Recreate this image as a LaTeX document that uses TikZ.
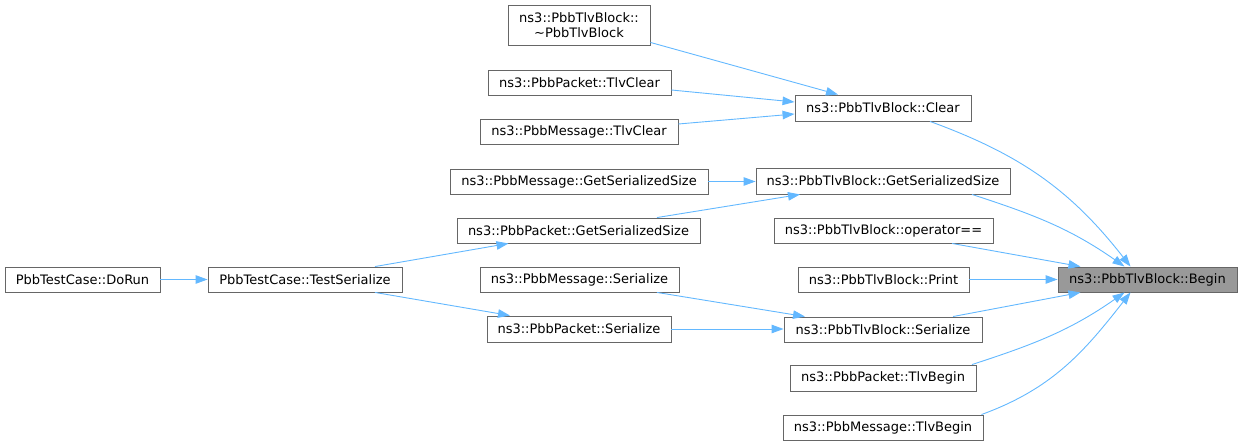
\documentclass[tikz,border=0pt]{standalone}
\usepackage{fontspec}
\setmainfont{DejaVu Sans}
\usetikzlibrary{arrows.meta}
\definecolor{edgeblue}{HTML}{63B8FF}
\definecolor{boxgray}{HTML}{666666}
\definecolor{rootgray}{HTML}{999999}
\begin{document}
\begin{tikzpicture}[
    x=1pt, y=-1pt,
    fn/.style={draw=boxgray, fill=white, line width=0.9pt, minimum height=25pt, inner sep=0pt,
      font=\fontsize{13}{15}\selectfont, anchor=center},
    root/.style={fn, fill=rootgray},
    call/.style={draw=edgeblue, line width=0.9pt, -{Triangle[length=12pt, width=8.5pt]}}
  ]
\useasboundingbox (0,0) rectangle (1243,446);

% Callers of Clear
\node[fn, minimum width=142pt, minimum height=40pt, align=center] (dtor) at (579,25)
  {ns3::PbbTlvBlock::\\\textasciitilde PbbTlvBlock};
\node[fn, minimum width=183pt] (pktTlvClear) at (579.5,82.5) {ns3::PbbPacket::TlvClear};
\node[fn, minimum width=198pt] (msgTlvClear) at (579,131.5) {ns3::PbbMessage::TlvClear};
\node[fn, minimum width=176pt, minimum height=26pt] (clear) at (883,108) {ns3::PbbTlvBlock::Clear};

% GetSerializedSize row
\node[fn, minimum width=258pt] (msgGSS) at (579,181.5) {ns3::PbbMessage::GetSerializedSize};
\node[fn, minimum width=254pt, minimum height=26pt] (tlvGSS) at (883,181) {ns3::PbbTlvBlock::GetSerializedSize};
\node[fn, minimum width=243pt] (pktGSS) at (578.5,230.5) {ns3::PbbPacket::GetSerializedSize};
\node[fn, minimum width=219pt] (opEq) at (883.5,230.5) {ns3::PbbTlvBlock::operator==};

% Test case chain
\node[fn, minimum width=155pt] (doRun) at (82.5,279.5) {PbbTestCase::DoRun};
\node[fn, minimum width=194pt] (testSer) at (305,279.5) {PbbTestCase::TestSerialize};
\node[fn, minimum width=199pt] (msgSer) at (579.5,279.5) {ns3::PbbMessage::Serialize};
\node[fn, minimum width=171pt] (print) at (883.5,279.5) {ns3::PbbTlvBlock::Print};
\node[root, minimum width=179pt] (begin) at (1147.5,279.5) {ns3::PbbTlvBlock::Begin};

% Serialize and TlvBegin
\node[fn, minimum width=184pt, minimum height=26pt] (pktSer) at (579,329) {ns3::PbbPacket::Serialize};
\node[fn, minimum width=198pt] (tlvSer) at (883,329.5) {ns3::PbbTlvBlock::Serialize};
\node[fn, minimum width=186pt, minimum height=26pt] (pktTlvBegin) at (883,378) {ns3::PbbPacket::TlvBegin};
\node[fn, minimum width=200pt] (msgTlvBegin) at (883,427.5) {ns3::PbbMessage::TlvBegin};

% Calls into Clear
\draw[call] ([yshift=3pt]dtor.south east) -- ([xshift=-45pt]clear.north);
\draw[call] ([yshift=-7.5pt]pktTlvClear.east) -- ([yshift=6pt]clear.west);
\draw[call] ([yshift=7.5pt]msgTlvClear.east) -- ([yshift=-6pt]clear.west);

% Calls into GetSerializedSize and Serialize
\draw[call] (msgGSS.east) -- (tlvGSS.west |- msgGSS.east);
\draw[call] ([xshift=78.5pt]pktGSS.north) -- ([xshift=-83pt]tlvGSS.south);
\draw[call] (doRun.east) -- (testSer.west);
\draw[call] ([xshift=70pt]testSer.north) -- ([xshift=-70pt]pktGSS.south);
\draw[call] ([xshift=70pt]testSer.south) -- ([xshift=-69pt]pktSer.north);
\draw[call] ([xshift=77.5pt]msgSer.south) -- ([xshift=-78pt]tlvSer.north);
\draw[call] (pktSer.east) -- (tlvSer.west |- pktSer.east);

% Calls into Begin
\draw[call] ([xshift=47pt]clear.south) to[out=-20, in=128] ([xshift=-17pt]begin.north);
\draw[call] ([xshift=89pt]tlvGSS.south) to[out=-18, in=145] ([xshift=-23pt]begin.north);
\draw[call] ([xshift=68.5pt]opEq.south) -- ([xshift=-67pt]begin.north);
\draw[call] (print.east) -- (begin.west);
\draw[call] ([xshift=70pt]tlvSer.north) -- ([xshift=-67pt]begin.south);
\draw[call] ([xshift=89pt]pktTlvBegin.north) to[out=18, in=-145] ([xshift=-23pt]begin.south);
\draw[call] ([xshift=-2pt]msgTlvBegin.north east) to[out=20, in=-128] ([xshift=-17pt]begin.south);

\end{tikzpicture}
\end{document}
